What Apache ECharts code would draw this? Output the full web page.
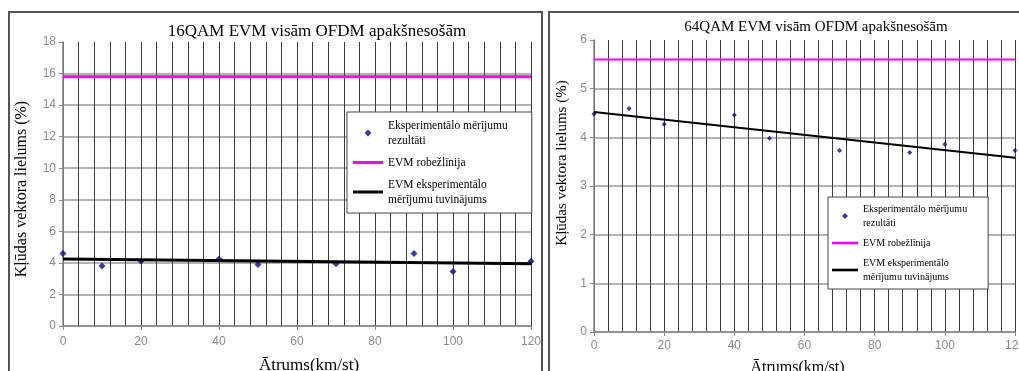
<!DOCTYPE html>
<html>
<head>
<meta charset="utf-8">
<script src="https://cdn.jsdelivr.net/npm/echarts@6/dist/echarts.min.js"></script>
<style>
  html, body { margin: 0; padding: 0; background: #fff; }
  #chart { width: 1019px; height: 371px; }
</style>
</head>
<body>
<div id="chart"></div>
<script>
// measured speeds (km/st)
const speeds = [0, 10, 20, 40, 50, 70, 90, 100, 120];
// EVM results (%)
const evm16 = [4.6, 3.8, 4.1, 4.25, 3.9, 3.95, 4.6, 3.45, 4.1];
const evm64 = [4.48, 4.59, 4.27, 4.46, 3.98, 3.73, 3.69, 3.86, 3.73];
// limit lines and fitted trend ends
const limitX = [0, 120];
const limit16 = [15.8, 15.8];
const limit64 = [5.6, 5.6];
const fit16 = [4.25, 3.95];
const fit64 = [4.52, 3.58];

const titles = ["16QAM EVM visām OFDM apakšnesošām", "64QAM EVM visām OFDM apakšnesošām"];
const legendNames = [
  "Eksperimentālo mērījumu\nrezultāti",
  "EVM robežlīnija",
  "EVM eksperimentālo\nmērījumu tuvinājums"
];
const xName = "Ātrums(km/st)";
const yName = "Kļūdas vektora lielums (%)";

const pairs = (xs, ys) => xs.map((x, i) => [x, ys[i]]);

const chart = echarts.init(document.getElementById("chart"));

const serif = "Liberation Serif";
const tickColor = "#8a8a8a";

function xAxis(gridIndex, labelMargin, nameGap, namePad, nameSize) {
  return {
    gridIndex,
    type: "value",
    min: 0,
    max: 120,
    interval: 20,
    name: xName,
    nameLocation: "middle",
    nameGap,
    nameTextStyle: { fontFamily: serif, fontSize: nameSize, color: "#000", padding: namePad },
    axisLine: { lineStyle: { color: "#888", width: 1.5 } },
    axisTick: { show: true, length: 4, lineStyle: { color: "#888" } },
    axisLabel: { color: tickColor, fontFamily: "Liberation Sans", fontSize: 12, margin: labelMargin },
    splitLine: { show: true, lineStyle: { color: "#3c3c3c", width: 1 } },
    minorTick: { show: false, splitNumber: 5 },
    minorSplitLine: { show: true, lineStyle: { color: "#3c3c3c", width: 1 } }
  };
}

function yAxis(gridIndex, max, interval, nameGap, namePad, nameSize) {
  return {
    gridIndex,
    type: "value",
    min: 0,
    max,
    interval,
    name: yName,
    nameLocation: "middle",
    nameRotate: 90,
    nameGap,
    nameTextStyle: { fontFamily: serif, fontSize: nameSize, color: "#000", padding: namePad },
    axisLine: { show: true, lineStyle: { color: "#888", width: 1.5 } },
    axisTick: { show: true, length: 4, lineStyle: { color: "#888" } },
    axisLabel: { color: tickColor, fontFamily: "Liberation Sans", fontSize: 12, margin: 7 },
    splitLine: { show: true, showMaxLine: false, lineStyle: { color: "#9a9a9a", width: 1.5 } }
  };
}

// legend samples: square diamond for the points, flat bar for the lines
const dotIcon = "path://M5,0L10,5L5,10L0,5Z";
const lineIcon = "path://M0,0L30,0L30,3L0,3Z";

function legend(series, left, top, fontSize, pad, gap, iconW, iconH, lineH) {
  return {
    data: series.map((id, i) => ({ name: id, icon: i === 0 ? dotIcon : lineIcon })),
    orient: "vertical",
    left,
    top,
    itemWidth: iconW,
    itemHeight: iconH,
    itemGap: gap,
    padding: pad,
    symbolKeepAspect: true,
    borderColor: "#444",
    borderWidth: 1,
    backgroundColor: "#fff",
    selectedMode: false,
    formatter: (name) => name.split("|")[0],
    textStyle: { fontFamily: serif, fontSize, color: "#000", lineHeight: lineH }
  };
}

const names16 = legendNames.map((n) => n + "|16");
const names64 = legendNames.map((n) => n + "|64");

const option = {
  animation: false,
  backgroundColor: "#fff",
  title: [
    { text: titles[0], left: 312, top: 18, textAlign: "center",
      textStyle: { fontFamily: serif, fontSize: 17, fontWeight: "normal", color: "#000" } },
    { text: titles[1], left: 811, top: 15, textAlign: "center",
      textStyle: { fontFamily: serif, fontSize: 15, fontWeight: "normal", color: "#000" } }
  ],
  graphic: [
    { type: "rect", shape: { x: 9, y: 12, width: 533, height: 380 },
      style: { fill: "none", stroke: "#555", lineWidth: 2 }, silent: true },
    { type: "rect", shape: { x: 549, y: 12, width: 490, height: 380 },
      style: { fill: "none", stroke: "#555", lineWidth: 2 }, silent: true }
  ],
  grid: [
    { left: 63, right: 488, top: 42, bottom: 45, outerBoundsMode: "none" },
    { left: 594, right: 4, top: 40, bottom: 39, outerBoundsMode: "none" }
  ],
  xAxis: [
    xAxis(0, 10, 31, [0, 0, 0, 24], 17),
    xAxis(1, 8, 28, [0, 14, 0, 0], 16)
  ],
  yAxis: [
    yAxis(0, 18, 2, 33, [0, 10, 0, 0], 16),
    yAxis(1, 6, 1, 24, [0, 0, 0, 46], 15)
  ],
  legend: [
    legend(names16, 347, 112, 11.5, [6, 24, 6, 6], 7, 30, 7, 15),
    legend(names64, 828, 197, 10, [5, 21, 5, 4], 6, 26, 6, 14)
  ],
  series: [
    { name: names16[1], type: "line", xAxisIndex: 0, yAxisIndex: 0, data: pairs(limitX, limit16),
      symbol: "none", lineStyle: { color: "#ff00ff", width: 3 }, itemStyle: { color: "#ff00ff" } },
    { name: names16[2], type: "line", xAxisIndex: 0, yAxisIndex: 0, data: pairs(limitX, fit16),
      symbol: "none", lineStyle: { color: "#000", width: 3 }, itemStyle: { color: "#000" } },
    { name: names16[0], type: "scatter", xAxisIndex: 0, yAxisIndex: 0, data: pairs(speeds, evm16),
      symbol: "diamond", symbolSize: 7, itemStyle: { color: "#0a0a80" } },

    { name: names64[1], type: "line", xAxisIndex: 1, yAxisIndex: 1, data: pairs(limitX, limit64),
      symbol: "none", lineStyle: { color: "#ff00ff", width: 2 }, itemStyle: { color: "#ff00ff" } },
    { name: names64[2], type: "line", xAxisIndex: 1, yAxisIndex: 1, data: pairs(limitX, fit64),
      symbol: "none", lineStyle: { color: "#000", width: 2 }, itemStyle: { color: "#000" } },
    { name: names64[0], type: "scatter", xAxisIndex: 1, yAxisIndex: 1, data: pairs(speeds, evm64),
      symbol: "diamond", symbolSize: 5, itemStyle: { color: "#0a0a80" } }
  ]
};

chart.setOption(option);
</script>
</body>
</html>
